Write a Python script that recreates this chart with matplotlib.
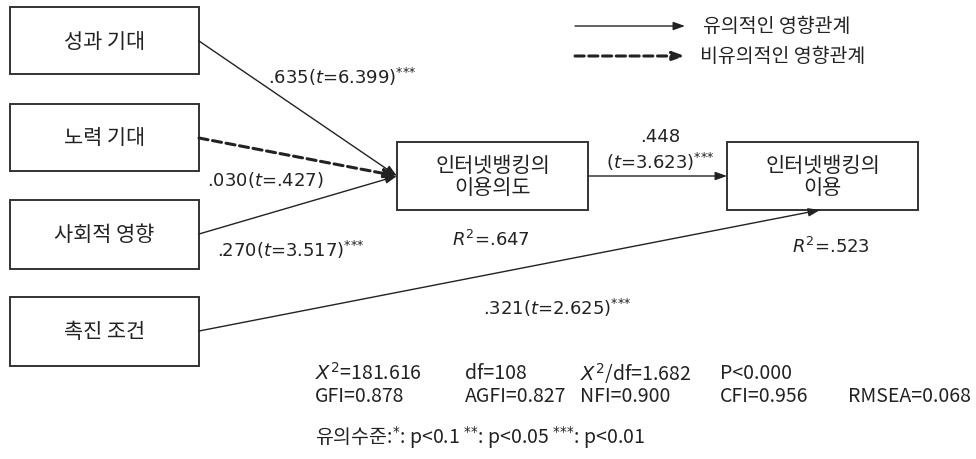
import matplotlib.pyplot as plt
from matplotlib.patches import Rectangle

plt.rcParams['font.family'] = ['Noto Sans CJK KR', 'DejaVu Sans']

# boxes: name, left, top, right, bottom (pixel frame of the diagram)
box_names = ['성과 기대', '노력 기대', '사회적 영향', '촉진 조건',
             '인터넷뱅킹의\n이용의도', '인터넷뱅킹의\n이용']
box_left = [10, 10, 10, 10, 397, 727]
box_top = [8, 105, 201, 298, 143, 143]
box_right = [199, 199, 199, 199, 588, 918]
box_bottom = [75, 172, 270, 367, 211, 211]

# paths: start point, end point, significant?
path_start = [(199, 42), (199, 139), (199, 235), (588, 177), (199, 332)]
path_end = [(397, 177), (397, 177), (397, 177), (727, 177), (820, 211)]
path_sig = [True, False, True, True, True]

stars = r'$^{\text{***}}$'

# coefficient labels
coef_text = ['.635($t$=6.399)' + stars, '.030($t$=.427)', '.270($t$=3.517)' + stars,
             '.448', '($t$=3.623)' + stars, '.321($t$=2.625)' + stars,
             '$R^{2}$=.647', '$R^{2}$=.523']
coef_x = [268, 207, 217, 660, 660, 483, 452, 792]
coef_y = [77, 180, 250, 137, 162, 308, 240, 247]
coef_ha = ['left', 'left', 'left', 'center', 'center', 'left', 'left', 'left']

# fit indices
fit_rows = [['$X^{2}$=181.616', 'df=108', '$X^{2}$/df=1.682', 'P<0.000'],
            ['GFI=0.878', 'AGFI=0.827', 'NFI=0.900', 'CFI=0.956', 'RMSEA=0.068']]
fit_cols = [315, 465, 580, 720, 848]
fit_y = [374, 397]
sig_note = (r'유의수준:$^{\text{*}}$: p<0.1 $^{\text{**}}$: p<0.05 '
            r'$^{\text{***}}$: p<0.01')

legend_labels = ['유의적인 영향관계', '비유의적인 영향관계']

fig = plt.figure(figsize=(9.76, 4.6), dpi=100)
ax = fig.add_axes([0, 0, 1, 1])
ax.set_xlim(0, 976)
ax.set_ylim(460, 0)
ax.axis('off')

ink = '#222222'

for name, l, t, r, b in zip(box_names, box_left, box_top, box_right, box_bottom):
    ax.add_patch(Rectangle((l, t), r - l, b - t, fill=False, ec='#333333', lw=1.4))
    ax.text((l + r) / 2, (t + b) / 2, name, ha='center', va='center',
            fontsize=15, color=ink, linespacing=1.05)

for s, e, sig in zip(path_start, path_end, path_sig):
    ax.annotate('', xy=e, xytext=s,
                arrowprops=dict(arrowstyle='-|>,head_length=0.7,head_width=0.25',
                                color='#222222', lw=1.0 if sig else 2.2,
                                linestyle='-' if sig else (0, (3, 1.5)),
                                shrinkA=0, shrinkB=0))

for txt, x, y, ha in zip(coef_text, coef_x, coef_y, coef_ha):
    ax.text(x, y, txt, ha=ha, va='center', fontsize=13, color=ink,
            family='DejaVu Sans')

for row, y in zip(fit_rows, fit_y):
    for txt, x in zip(row, fit_cols):
        ax.text(x, y, txt, ha='left', va='center', fontsize=14, color=ink)
ax.text(315, 438, sig_note, ha='left', va='center', fontsize=14, color=ink)

# legend
for i, lab in enumerate(legend_labels):
    y = [27, 57][i]
    ax.annotate('', xy=(685, y), xytext=(575, y),
                arrowprops=dict(arrowstyle='-|>,head_length=0.7,head_width=0.25',
                                color='#222222', lw=1.0 if i == 0 else 2.2,
                                linestyle='-' if i == 0 else (0, (3, 1.5)),
                                shrinkA=0, shrinkB=0))
    ax.text([703, 700][i], y, lab, ha='left', va='center', fontsize=14, color=ink)

fig.savefig('out.png', dpi=100)
